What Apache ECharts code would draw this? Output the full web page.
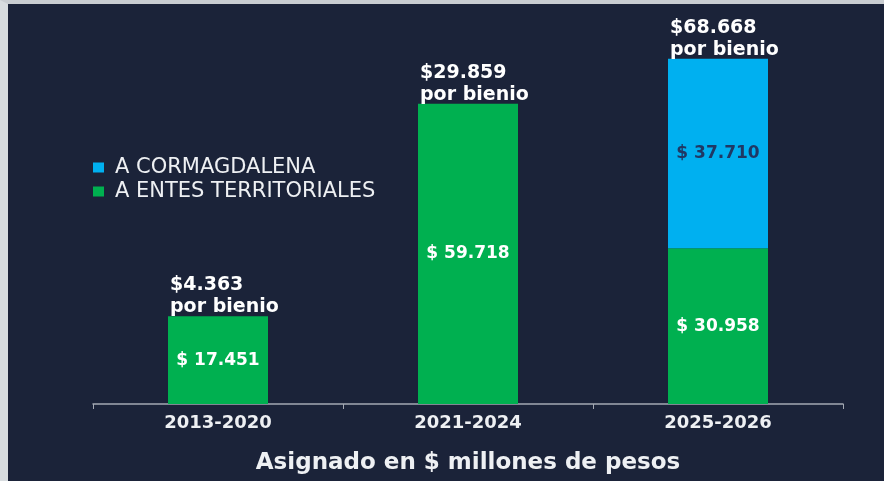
<!DOCTYPE html>
<html>
<head>
<meta charset="utf-8">
<script src="https://cdn.jsdelivr.net/npm/echarts@6/dist/echarts.min.js"></script>
<style>
  html, body { margin: 0; padding: 0; background: #cfd3d7; }
  #chart {
    box-sizing: border-box;
    width: 884px;
    height: 481px;
    border-left: 8px solid #d8dcdf;
    border-top: 4px solid #c9cdd1;
    background: #1b2339;
  }
</style>
</head>
<body>
<div id="chart"></div>
<script>
const periods = ["2013-2020", "2021-2024", "2025-2026"];
const entesTerritoriales = [17451, 59718, 30958];
const cormagdalena = ["-", "-", 37710];
const porBienio = [4363, 29859, 68668];

const fmt = (v) => String(v).replace(/\B(?=(\d{3})+(?!\d))/g, ".");
const font = "DejaVu Sans";

const chart = echarts.init(document.getElementById("chart"));

chart.setOption({
  animation: false,
  textStyle: { fontFamily: font },
  legend: {
    orient: "vertical",
    left: 80,
    top: 148,
    itemWidth: 11,
    itemHeight: 10,
    itemGap: 3,
    icon: "rect",
    data: ["A CORMAGDALENA", "A ENTES TERRITORIALES"],
    textStyle: { color: "#eef0f3", fontSize: 21, fontFamily: font, padding: [0, 0, 0, 6] },
  },
  grid: { left: 85, right: 41, top: 48, bottom: 77 },
  xAxis: {
    type: "category",
    data: periods,
    axisLine: { lineStyle: { color: "#a4a9b3", width: 1.5 } },
    axisTick: { show: true, length: 5, lineStyle: { color: "#a4a9b3" } },
    axisLabel: {
      color: "#eef0f3",
      fontSize: 18,
      fontWeight: "bold",
      margin: 10,
    },
    name: "Asignado en $ millones de pesos",
    nameLocation: "middle",
    nameGap: 48,
    nameTextStyle: { color: "#eef0f3", fontSize: 23, fontWeight: "bold" },
  },
  yAxis: {
    type: "value",
    min: 0,
    max: 70000,
    show: false,
    splitLine: { show: false },
  },
  series: [
    {
      name: "A ENTES TERRITORIALES",
      type: "bar",
      stack: "total",
      barWidth: 100,
      data: entesTerritoriales,
      itemStyle: { color: "#00b050" },
      label: {
        show: true,
        position: "inside",
        color: "#ffffff",
        fontSize: 17,
        fontWeight: "bold",
        formatter: (p) => "$ " + fmt(p.value),
      },
    },
    {
      name: "A CORMAGDALENA",
      type: "bar",
      stack: "total",
      barWidth: 100,
      data: cormagdalena,
      itemStyle: { color: "#00b0f0" },
      label: {
        show: true,
        position: "inside",
        color: "#1f3864",
        fontSize: 17,
        fontWeight: "bold",
        formatter: (p) => "$ " + fmt(p.value),
      },
    },
    {
      name: "bienio",
      type: "bar",
      stack: "total",
      barWidth: 100,
      data: porBienio.map(() => 0),
      itemStyle: { color: "transparent" },
      silent: true,
      label: {
        show: true,
        position: [2, 2],
        align: "left",
        verticalAlign: "bottom",
        color: "#ffffff",
        fontSize: 19,
        fontWeight: "bold",
        lineHeight: 22,
        formatter: (p) => "$" + fmt(porBienio[p.dataIndex]) + "\npor bienio",
      },
    },
  ],
});
</script>
</body>
</html>
